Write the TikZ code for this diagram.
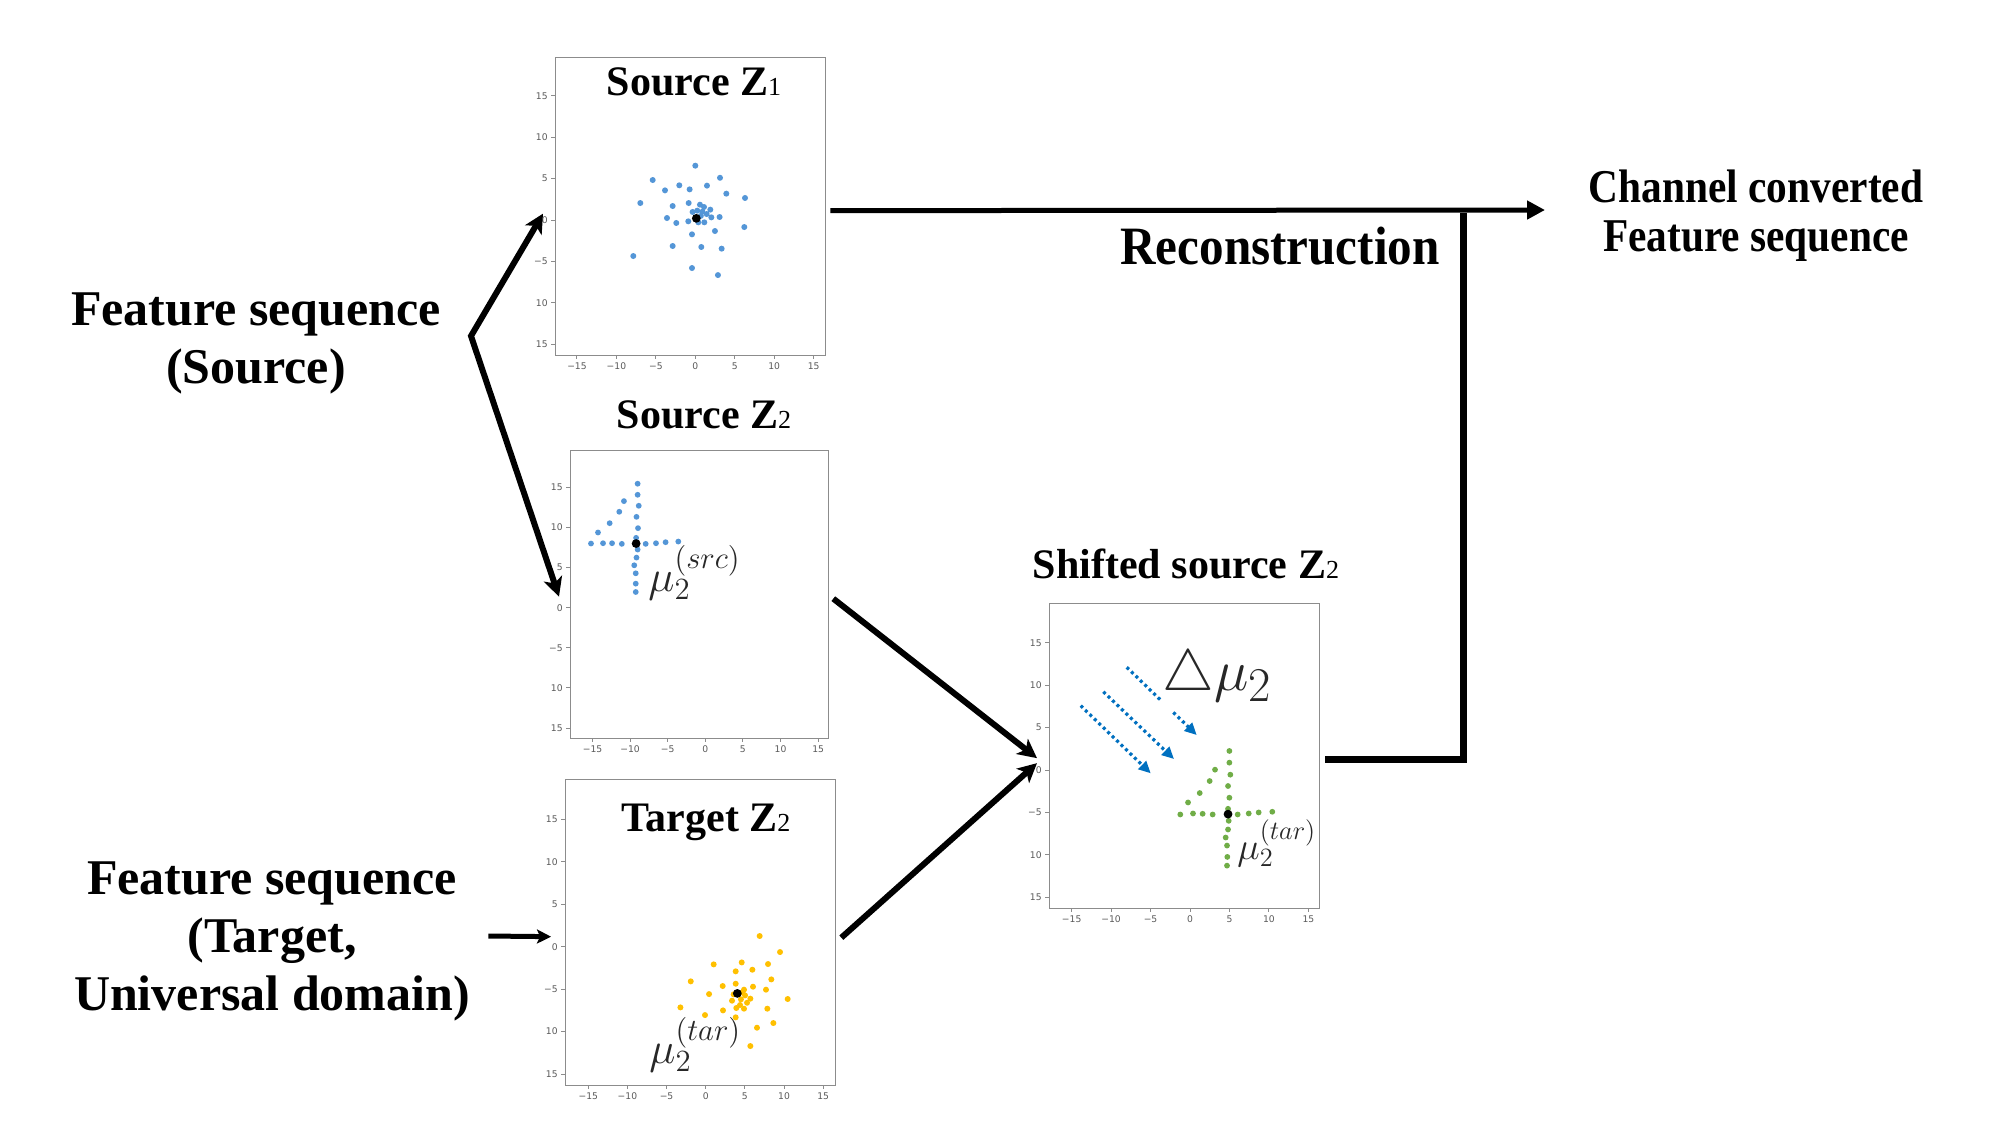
\documentclass[tikz,border=0pt]{standalone}
\usepackage[no-math]{fontspec}
\setmainfont{Liberation Serif}
\newfontfamily\tickfont{DejaVu Sans}
\usetikzlibrary{arrows.meta,calc}
\definecolor{bluept}{RGB}{84,150,215}
\definecolor{yellowpt}{RGB}{255,192,0}
\definecolor{greenpt}{RGB}{112,173,71}
\definecolor{arrowblue}{RGB}{0,112,192}
\definecolor{framegray}{RGB}{140,140,140}
\definecolor{ticklabgray}{RGB}{90,90,90}
\definecolor{mathgray}{RGB}{40,40,40}
\tikzset{
 frm/.style={draw=framegray, line width=0.65pt, inner sep=0pt, anchor=north west},
 tk/.style={draw=framegray, line width=0.5pt},
 ticklab/.style={font=\tickfont\fontsize{4.6pt}{5pt}\selectfont, text=ticklabgray, inner sep=0pt},
 bigtxt/.style={font=\fontsize{25pt}{29pt}\selectfont\bfseries, align=center, inner sep=0pt},
 ttl/.style={font=\fontsize{21pt}{24pt}\selectfont\bfseries, inner sep=0pt, anchor=base},
 mlab/.style={text=mathgray, inner sep=0pt, anchor=base west},
 bigarrow/.style={line width=3pt, -{Stealth[length=9.5pt,width=9.5pt,inset=2.5pt]}},
 forkarrow/.style={line width=3pt, line join=miter, {Stealth[length=9.5pt,width=9.5pt,inset=2.5pt]}-{Stealth[length=9.5pt,width=9.5pt,inset=2.5pt]}},
 medarrow/.style={line width=2.5pt, -{Stealth[length=7pt,width=7pt,inset=1.5pt]}},
 recarrow/.style={line width=2.5pt, -{Triangle[length=9pt,width=9pt]}},
 recline/.style={line width=3.5pt, line join=miter},
 dotline/.style={draw=arrowblue, line width=1.6pt, dash pattern=on 1.5pt off 1.6pt},
 dotarr/.style={dotline, -{Triangle[length=6pt,width=5.5pt]}},
}
\newcommand{\subdig}[1]{{\fontsize{13pt}{13pt}\selectfont\mdseries #1}}
\newcommand{\mkpanel}[9]{%
 \node[frm, minimum width={(#8-#6)*0.5pt}, minimum height={(#9-#7)*0.5pt}] (#1) at (#6,#7) {};
 \foreach \v/\t [count=\i] in {-15/−15,-10/−10,-5/−5,0/0,5/5,10/10,15/15}{
   \draw[tk] ({#2+\v*#4},{#9}) -- ++(0,4);
   \node[ticklab, anchor=north] (#1x\i) at ({#2+\v*#4},{#9+7}) {\t};
 }
 \foreach \v/\t [count=\i] in {15/15,10/10,5/5,0/0,-5/−5,-10/10,-15/15}{
   \draw[tk] ({#6},{#3-\v*#5}) -- ++(-4,0);
   \node[ticklab, anchor=east] (#1y\i) at ({#6-7},{#3-\v*#5}) {\t};
 }
}
\begin{document}
\begin{tikzpicture}[x=0.5pt,y=-0.5pt]
\useasboundingbox (0,0) rectangle (2000,1125);
\fill[white] (0,0) rectangle (2000,1125);

% panels
\mkpanel{p1}{695.3}{220}{7.89}{8.28}{555}{57}{825}{355}
\mkpanel{p2}{705.3}{607.7}{7.52}{8.02}{570}{450}{828}{738}
\mkpanel{p3}{705.7}{946.7}{7.83}{8.49}{565}{779}{835}{1085}
\mkpanel{p4}{1190}{770}{7.89}{8.47}{1049}{603}{1319}{908}

% panel 1 points
\begin{scope}[shift={(695.3,220)}, x={(3.945pt,0pt)}, y={(0pt,4.14pt)}]
 \foreach \a/\b in {0/6.56, -5.4/4.83, 3.13/5.1, -3.84/3.58, -2.03/4.19, -0.72/3.7, 1.48/4.15, 3.93/3.18, 6.3/2.66, -6.97/2.05, -2.87/1.69, -0.84/2.05, 0.59/1.85, 1.1/1.57, 1.9/1.25, -0.34/0.97, 0.25/1.13, 1.44/0.72, 2.03/0.32, 3.08/0.36, -3.59/0.24, -2.41/-0.36, -0.89/-0.16, 0.38/-0.28, 1.14/-0.28, 6.21/-0.85, 2.49/-1.33, -0.42/-1.73, -2.87/-3.14, 0.76/-3.26, 3.34/-3.46, -7.86/-4.35, -0.42/-5.8, 2.87/-6.65, 0.7/0.5, 0.9/1.0}
   \fill[bluept] (\a,\b) circle[radius=1.5pt];
 \fill[black] (0.13,0.2) circle[radius=2.2pt];
\end{scope}

% panel 2 points
\begin{scope}[shift={(705.3,607.7)}, x={(3.76pt,0pt)}, y={(0pt,4.01pt)}]
 \foreach \a/\b in {-9.0/15.46, -9.0/14.08, -8.85/12.71, -9.15/11.33, -8.95/9.92, -9.2/8.71, -9.0/7.25, -9.15/6.25, -9.45/5.29, -9.25/4.29, -9.25/3.0, -9.25/1.96, -15.2/8.0, -13.6/8.04, -12.4/8.04, -11.1/7.96, -7.93/7.96, -6.56/8.04, -5.28/8.17, -3.59/8.25, -14.27/9.38, -12.72/10.54, -11.44/11.96, -10.82/13.29}
   \fill[bluept] (\a,\b) circle[radius=1.45pt];
 \fill[black] (-9.2,8.0) circle[radius=2.2pt];
\end{scope}

% panel 3 points
\begin{scope}[shift={(705.7,946.7)}, x={(3.915pt,0pt)}, y={(0pt,4.245pt)}]
 \foreach \a/\b in {6.89/1.26, 9.49/-0.63, 1.02/-2.08, 4.6/-1.85, 7.96/-2.04, 3.83/-2.9, 5.96/-2.71, -1.91/-4.08, 3.83/-4.36, 8.38/-3.85, 2.17/-4.63, 6.04/-4.71, 0.43/-5.58, 4.89/-5.06, 7.7/-5.06, 3.57/-5.61, 5.02/-5.73, 3.36/-6.36, 5.7/-6.12, 5.28/-6.6, 4.38/-6.87, -3.23/-7.15, 10.47/-6.16, 3.91/-7.22, 4.89/-7.3, 2.21/-7.5, 7.87/-7.3, -0.09/-8.05, 3.83/-8.32, 8.64/-8.99, 6.55/-9.54, 5.7/-11.7, 4.5/-6.2, 4.7/-5.4}
   \fill[yellowpt] (\a,\b) circle[radius=1.5pt];
 \fill[black] (4.04,-5.5) circle[radius=2.2pt];
\end{scope}

% panel 4 points and shift arrows
\begin{scope}[shift={(1190,770)}, x={(3.945pt,0pt)}, y={(0pt,4.235pt)}]
 \foreach \a/\b in {4.99/2.25, 4.99/0.87, 5.11/-0.55, 4.82/-1.89, 4.99/-3.27, 4.82/-4.58, 4.9/-6.0, 4.82/-7.02, 4.52/-7.97, 4.69/-8.92, 4.73/-10.26, 4.69/-11.29, -1.23/-5.25, 0.38/-5.13, 1.6/-5.17, 2.87/-5.25, 6.04/-5.25, 7.44/-5.13, 8.7/-5.01, 10.43/-4.93, -0.25/-3.83, 1.23/-2.72, 2.49/-1.3, 3.17/0.04}
   \fill[greenpt] (\a,\b) circle[radius=1.45pt];
 \fill[black] (4.82,-5.21) circle[radius=2.2pt];
 \draw[dotarr] (-13.85,7.59) -- (-4.98,-0.39);
 \draw[dotarr] (-10.99,9.24) -- (-2.03,1.30);
 \coordinate (a3s) at (-8.02,12.13);
 \coordinate (a3e) at (0.85,4.13);
 \draw[dotline] (a3s) -- ($(a3s)!0.49!(a3e)$);
 \draw[dotarr] ($(a3s)!0.666!(a3e)$) -- (a3e);
\end{scope}

% math labels
\node[mlab, font=\fontsize{20.74pt}{21pt}\selectfont] (mus) at (648,591) {\scalebox{1.07}{$\mu_2^{(src)}$}};
\node[mlab, font=\fontsize{20.74pt}{21pt}\selectfont] (mut) at (649,1063) {\scalebox{1.07}{$\mu_2^{(tar)}$}};
\node[mlab, font=\fontsize{17.28pt}{18pt}\selectfont] (mut4) at (1237,859) {\scalebox{1.1}{$\mu_2^{(tar)}$}};
\node[mlab, font=\fontsize{24.88pt}{25pt}\selectfont] (dmu) at (1162,690) {\scalebox{1.17}{$\triangle\mu_2$}};

% titles
\node[ttl] (t1) at (694,95) {Source \textbf{Z}\subdig{1}};
\node[ttl] (t2) at (704,428) {Source \textbf{Z}\subdig{2}};
\node[ttl] (t3) at (706,831) {Target \textbf{Z}\subdig{2}};
\node[ttl] (t4) at (1186,578) {Shifted source \textbf{Z}\subdig{2}};

% texts
\node[bigtxt] (src) at (256,343) {Feature sequence\\(Source)};
\node[bigtxt] (tgt) at (272,941) {Feature sequence\\(Target,\\Universal domain)};
\node[font=\fontsize{23.5pt}{24.5pt}\selectfont\bfseries, align=center, inner sep=0pt] (out) at (1756,216) {\scalebox{0.88}[1]{Channel converted}\\\scalebox{0.88}[1]{Feature sequence}};
\node[font=\fontsize{27pt}{27pt}\selectfont\bfseries, inner sep=0pt] (rec) at (1280,246) {\scalebox{0.91}[1]{Reconstruction}};

% connectors
\coordinate (fork) at (471,336);
\draw[forkarrow] ($(p1.west)+(-12,7)$) -- (fork) -- ($(p2.west)+(-11,2)$);
\draw[bigarrow] ($(p2.east)+(4,4)$) -- ($(p4.west)+(-12,2)$);
\draw[bigarrow] ($(p3.east)+(5,5)$) -- ($(p4.west)+(-12,7)$);
\draw[medarrow] ($(tgt.east)+(18,-5)$) -- ($(p3.west)+(-14,4)$);
\coordinate (recend) at (1545,210);
\coordinate (join) at (1463,213);
\draw[recarrow] ($(p1.east)+(4,4)$) -- (recend);
\draw[recline] ($(p4.east)+(5,3)$) -| (join);
\end{tikzpicture}
\end{document}
